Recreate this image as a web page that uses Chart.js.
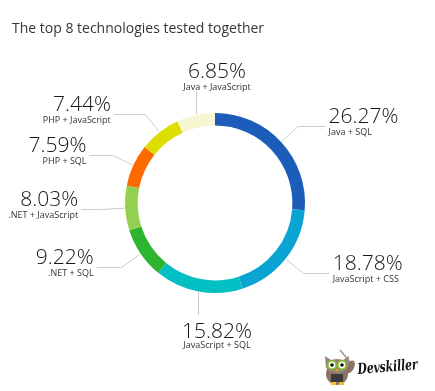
<!DOCTYPE html>
<html>
<head>
<meta charset="utf-8">
<script src="https://cdn.jsdelivr.net/npm/chart.js@4/dist/chart.umd.min.js"></script>
<style>
  html, body { margin: 0; padding: 0; background: #ffffff; }
  #wrap { width: 435px; height: 391px; }
</style>
</head>
<body>
<div id="wrap"><canvas id="chart" width="435" height="391"></canvas></div>
<script>
// Technology pairs tested together, share of all tests (%)
const categories = [
  'Java + SQL',
  'JavaScript + CSS',
  'JavaScript + SQL',
  '.NET + SQL',
  '.NET + JavaScript',
  'PHP + SQL',
  'PHP + JavaScript',
  'Java + JavaScript'
];
const shares = [26.27, 18.78, 15.82, 9.22, 8.03, 7.59, 7.44, 6.85];
const sliceColors = [
  '#1b5db9', '#0aa4d2', '#02bfc3', '#2db52f',
  '#92d14f', '#ff6a00', '#dcdd00', '#f7f6d2'
];
const chartTitle = 'The top 8 technologies tested together';

const FONT = '"Open Sans", "Liberation Sans", sans-serif';

// Leader lines and value/category labels around the ring
const calloutPlugin = {
  id: 'callouts',
  afterDatasetsDraw(chart) {
    const ctx = chart.ctx;
    const meta = chart.getDatasetMeta(0);
    ctx.save();
    meta.data.forEach((arc, i) => {
      const p = arc.getProps(['x', 'y', 'startAngle', 'endAngle', 'outerRadius'], true);
      const a = (p.startAngle + p.endAngle) / 2;
      const c = Math.cos(a), s = Math.sin(a);
      const R = p.outerRadius;
      const sx = p.x + c * (R + 1), sy = p.y + s * (R + 1);
      const pct = shares[i].toFixed(2) + '%';
      const name = categories[i];

      ctx.strokeStyle = '#cccccc';
      ctx.lineWidth = 1;
      ctx.fillStyle = '#161616';

      if (Math.abs(c) < 0.3) {
        // label straight above / below the slice
        const ey = p.y + s * (R + 24);
        ctx.beginPath();
        ctx.moveTo(Math.round(sx) + 0.5, sy);
        ctx.lineTo(Math.round(sx) + 0.5, ey);
        ctx.stroke();
        ctx.textAlign = 'center';
        const tx = p.x + 2;
        if (s < 0) {
          ctx.font = '300 21px ' + FONT;
          ctx.fillText(pct, tx, ey - 14);
          ctx.font = '9px ' + FONT;
          ctx.fillStyle = '#333333';
          ctx.fillText(name, tx, ey - 2);
        } else {
          ctx.font = '300 21px ' + FONT;
          ctx.fillText(pct, tx, ey + 23);
          ctx.font = '9px ' + FONT;
          ctx.fillStyle = '#333333';
          ctx.fillText(name, tx, ey + 33);
        }
      } else {
        const side = c > 0 ? 1 : -1;
        const kx = p.x + c * (R + 23);
        const ey = p.y + s * (R + 23);
        const dy = ey - p.y;
        const Rl = 137;
        const tx = p.x + side * Math.sqrt(Math.max(Rl * Rl - dy * dy, 0));
        const ex = tx - side * 3;
        ctx.beginPath();
        ctx.moveTo(sx, sy);
        ctx.lineTo(kx, Math.round(ey) + 0.5);
        ctx.lineTo(ex, Math.round(ey) + 0.5);
        ctx.stroke();
        ctx.textAlign = side > 0 ? 'left' : 'right';
        ctx.font = '300 21px ' + FONT;
        ctx.fillText(pct, tx, ey - 3);
        ctx.font = '9px ' + FONT;
        ctx.fillStyle = '#333333';
        ctx.fillText(name, tx, ey + 9);
      }
    });
    ctx.restore();
  }
};

// Heading and the brand mark in the lower right corner
const decorPlugin = {
  id: 'decor',
  afterDraw(chart) {
    const ctx = chart.ctx;
    ctx.save();
    ctx.fillStyle = '#363636';
    ctx.textAlign = 'left';
    ctx.font = '14px ' + FONT;
    ctx.fillText(chartTitle, 12, 33);

    // owl
    ctx.strokeStyle = '#9a9a9a';
    ctx.lineWidth = 1.5;
    ctx.beginPath();
    ctx.moveTo(340, 350);
    ctx.lineTo(350, 362);
    ctx.stroke();

    ctx.fillStyle = '#8a7464';
    ctx.beginPath();
    ctx.ellipse(350, 367, 4, 7, 0.5, 0, Math.PI * 2);
    ctx.fill();
    ctx.beginPath();
    ctx.ellipse(337, 374, 11, 11, 0, 0, Math.PI * 2);
    ctx.fill();
    ctx.fillStyle = '#9b8576';
    ctx.beginPath();
    ctx.moveTo(325, 356);
    ctx.lineTo(331, 360);
    ctx.lineTo(343, 360);
    ctx.lineTo(349, 356);
    ctx.lineTo(348, 368);
    ctx.lineTo(326, 368);
    ctx.closePath();
    ctx.fill();
    ctx.beginPath();
    ctx.ellipse(337, 366, 11, 7, 0, 0, Math.PI * 2);
    ctx.fill();

    ctx.fillStyle = '#3b3b3b';
    ctx.fillRect(331, 374, 12, 8);

    [[332, 365], [342, 365]].forEach(([ex, ey]) => {
      ctx.fillStyle = '#ffffff';
      ctx.strokeStyle = '#7fd126';
      ctx.lineWidth = 1.5;
      ctx.beginPath();
      ctx.arc(ex, ey, 4, 0, Math.PI * 2);
      ctx.fill();
      ctx.stroke();
      ctx.fillStyle = '#111111';
      ctx.beginPath();
      ctx.arc(ex, ey, 1.8, 0, Math.PI * 2);
      ctx.fill();
    });
    ctx.fillStyle = '#f2a516';
    ctx.beginPath();
    ctx.moveTo(335.5, 369);
    ctx.lineTo(338.5, 369);
    ctx.lineTo(337, 372);
    ctx.closePath();
    ctx.fill();
    ctx.fillStyle = '#f4c21a';
    ctx.fillRect(331, 382, 5, 3);
    ctx.fillRect(339, 382, 5, 3);

    // wordmark
    ctx.translate(358, 374);
    ctx.rotate(-0.08);
    ctx.fillStyle = '#111111';
    ctx.font = 'italic bold 15px "DejaVu Serif", serif';
    ctx.fillText('Devskiller', 0, 0, 60);
    ctx.restore();
  }
};

new Chart(document.getElementById('chart'), {
  type: 'doughnut',
  data: {
    labels: categories,
    datasets: [{
      data: shares,
      backgroundColor: sliceColors,
      borderWidth: 0,
      hoverOffset: 0
    }]
  },
  options: {
    responsive: false,
    animation: false,
    devicePixelRatio: 1,
    cutout: '86%',
    layout: { padding: { left: 125, right: 130, top: 113, bottom: 98 } },
    plugins: {
      legend: { display: false },
      title: { display: false },
      tooltip: { enabled: false }
    }
  },
  plugins: [calloutPlugin, decorPlugin]
});
</script>
</body>
</html>
